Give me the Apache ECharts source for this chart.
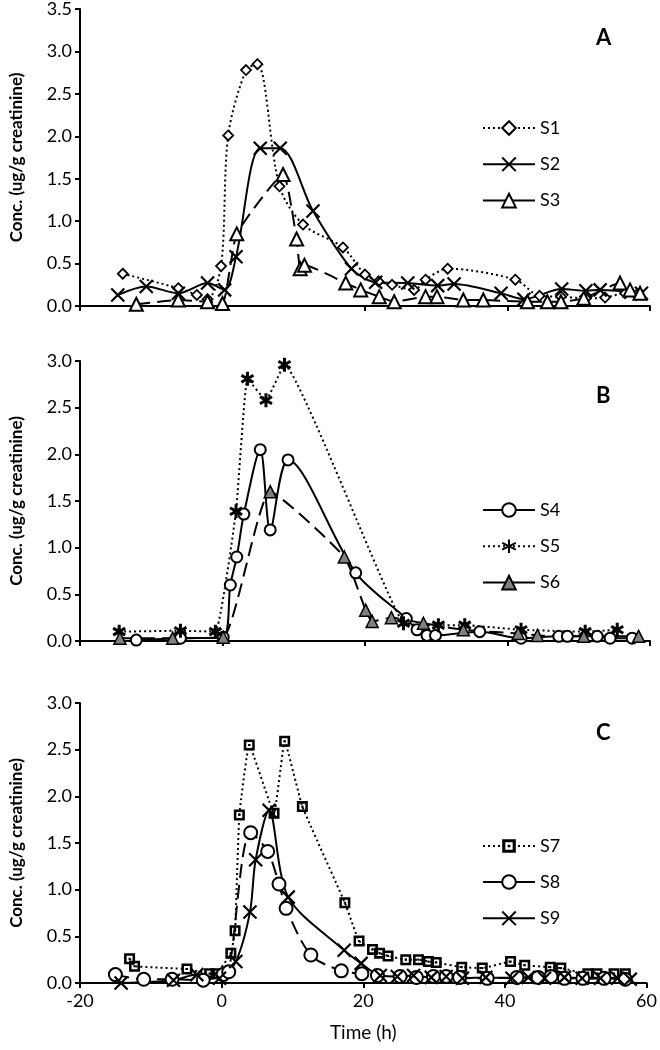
<!DOCTYPE html>
<html>
<head>
<meta charset="utf-8">
<script src="https://cdn.jsdelivr.net/npm/echarts@6/dist/echarts.min.js"></script>
<style>
html,body{margin:0;padding:0;background:#fff;}
#chart{width:660px;height:1050px;}
</style>
</head>
<body>
<div id="chart"></div>
<script>
// ---- Data (Time h, Conc. ug/g creatinine) ----
const s1 = [[-14.0,0.38],[-6.2,0.21],[-3.6,0.13],[-2.1,0.08],[-0.2,0.47],[0.8,2.01],[3.3,2.78],[4.9,2.85],[8.0,1.41],[11.3,0.96],[16.9,0.69],[20.0,0.37],[21.9,0.29],[23.8,0.25],[26.9,0.19],[28.5,0.31],[31.6,0.44],[41.1,0.31],[44.5,0.12],[47.5,0.11],[51.0,0.09],[53.7,0.10],[56.5,0.15],[58.1,0.13]];
const s2 = [[-14.7,0.13],[-10.7,0.23],[-6.2,0.15],[-2.1,0.27],[0.3,0.19],[1.9,0.58],[5.3,1.86],[8.1,1.86],[12.7,1.12],[18.1,0.44],[21.5,0.28],[26.0,0.27],[30.2,0.24],[32.5,0.26],[39.1,0.15],[42.3,0.08],[47.6,0.20],[51.0,0.18],[53.0,0.19],[58.8,0.15]];
const s3 = [[-12.1,0.02],[-6.2,0.07],[-2.1,0.05],[0.0,0.03],[2.0,0.85],[8.5,1.55],[10.4,0.79],[10.9,0.44],[11.5,0.48],[17.3,0.27],[19.4,0.19],[22.0,0.11],[24.1,0.05],[28.5,0.11],[30.1,0.11],[33.8,0.07],[36.6,0.07],[42.8,0.05],[45.6,0.05],[47.5,0.05],[50.7,0.09],[55.8,0.27],[57.2,0.19],[58.6,0.15]];
const s4 = [[-12.1,0.01],[-5.9,0.03],[0.1,0.04],[1.1,0.60],[2.0,0.90],[3.0,1.36],[5.3,2.05],[6.7,1.19],[9.2,1.94],[18.7,0.73],[25.8,0.24],[27.3,0.12],[28.7,0.06],[29.9,0.06],[36.1,0.10],[41.9,0.03],[47.2,0.05],[48.4,0.05],[52.6,0.05],[54.4,0.03],[57.5,0.03]];
const s5 = [[-14.5,0.10],[-5.9,0.11],[-1.0,0.10],[1.9,1.39],[3.5,2.81],[6.1,2.58],[8.7,2.96],[25.4,0.19],[30.3,0.17],[34.0,0.17],[41.9,0.12],[50.9,0.10],[55.4,0.12]];
const s6 = [[-14.4,0.03],[-7.0,0.03],[0.1,0.04],[6.7,1.60],[17.1,0.90],[20.1,0.33],[21.0,0.21],[23.7,0.25],[28.2,0.19],[33.8,0.12],[41.5,0.08],[44.2,0.06],[50.7,0.05],[58.4,0.05]];
const s7 = [[-13.0,0.26],[-12.3,0.18],[-4.9,0.15],[-1.7,0.10],[-0.8,0.10],[1.3,0.32],[1.9,0.56],[2.5,1.80],[3.9,2.55],[7.4,1.82],[8.9,2.59],[11.4,1.89],[17.4,0.86],[19.4,0.45],[21.3,0.36],[22.3,0.32],[23.5,0.29],[26.0,0.25],[27.8,0.25],[29.2,0.23],[30.3,0.22],[33.9,0.17],[36.8,0.16],[40.8,0.23],[42.8,0.19],[46.4,0.17],[47.9,0.16],[51.7,0.10],[53.0,0.10],[55.4,0.10],[57.0,0.10]];
const s8 = [[-15.0,0.09],[-11.0,0.04],[-7.0,0.04],[-2.6,0.03],[0.2,0.09],[1.0,0.12],[4.1,1.61],[6.5,1.41],[8.1,1.06],[9.1,0.80],[12.6,0.30],[16.9,0.13],[19.8,0.10],[22.0,0.08],[25.2,0.07],[27.5,0.06],[29.9,0.07],[31.7,0.07],[33.6,0.06],[37.5,0.05],[41.7,0.06],[44.7,0.06],[46.5,0.07],[48.4,0.05],[51.0,0.05],[54.0,0.05],[57.0,0.04]];
const s9 = [[-14.2,0.00],[-6.8,0.03],[-3.5,0.09],[-0.3,0.05],[2.0,0.23],[4.0,0.76],[4.8,1.32],[6.7,1.85],[9.4,0.92],[17.3,0.35],[19.7,0.21],[22.4,0.08],[24.8,0.07],[27.1,0.08],[29.6,0.06],[31.7,0.07],[34.0,0.05],[37.3,0.06],[41.0,0.05],[43.3,0.06],[45.6,0.05],[48.4,0.06],[50.9,0.05],[53.5,0.05],[55.9,0.05],[57.7,0.04]];
const panelLetters = ['A','B','C'];
const yMaxes = [3.5, 3.0, 3.0];
const yTitle = 'Conc. (ug/g creatinine)';
const xTitle = 'Time (h)';

const FONT = 'Lato';
const X_SYM = 'path://M0,0 L10,10 M10,0 L0,10';
const AST_SYM = 'path://M5,0 L5,10 M0.7,2.5 L9.3,7.5 M0.7,7.5 L9.3,2.5';
const SQ_SYM = 'path://M0,0 L10,0 L10,10 L0,10 Z M2.3,2.3 L2.3,7.7 L7.7,7.7 L7.7,2.3 Z M4,4 L6,4 L6,6 L4,6 Z';

const DOT = [2,3];
const DASH = [14,7];

function mk(name, data, gi, opts) {
  return Object.assign({
    name: name, type: 'line', data: data,
    xAxisIndex: gi, yAxisIndex: gi,
    smooth: 0.3,
    lineStyle: { color: '#000', width: 2, type: 'solid' },
    itemStyle: { color: '#fff', borderColor: '#000', borderWidth: 2 },
    symbolKeepAspect: true,
    animation: false,
    clip: false
  }, opts);
}

const grids = [
  { left: 74, right: 10, top: 7, height: 299 },
  { left: 74, right: 10, top: 361, height: 280 },
  { left: 74, right: 10, top: 703, height: 280 }
];

const xAxes = grids.map((g, i) => ({
  type: 'value', gridIndex: i, min: -20, max: 60, interval: 20,
  axisLine: { show: true, onZero: false, lineStyle: { color: '#000', width: 2 } },
  axisTick: { show: true, inside: false, length: 5, lineStyle: { color: '#000', width: 2 } },
  axisLabel: { show: i === 2, color: '#000', fontSize: 18, fontFamily: FONT, margin: 9 },
  splitLine: { show: false },
  name: i === 2 ? xTitle : '',
  nameLocation: 'middle', nameGap: 40,
  nameTextStyle: { color: '#000', fontSize: 19, fontFamily: FONT }
}));

const yAxes = grids.map((g, i) => ({
  type: 'value', gridIndex: i, min: 0, max: yMaxes[i], interval: 0.5,
  axisLine: { show: true, onZero: false, lineStyle: { color: '#000', width: 2 } },
  axisTick: { show: true, inside: false, length: 5, lineStyle: { color: '#000', width: 2 } },
  axisLabel: { color: '#000', fontSize: 18, fontFamily: FONT, margin: 8,
               formatter: v => v.toFixed(1) },
  splitLine: { show: false },
  name: yTitle, nameLocation: 'middle', nameGap: 55, nameRotate: 90,
  nameTextStyle: { color: '#000', fontSize: 17, fontWeight: 'bold', fontFamily: FONT }
}));

const series = [
  mk('S1', s1, 0, { symbol: 'diamond', symbolSize: 10, lineStyle: { color: '#000', width: 2, type: DOT }, itemStyle: { color: '#fff', borderColor: '#000', borderWidth: 1.8 } }),
  mk('S2', s2, 0, { symbol: X_SYM, symbolSize: 13, itemStyle: { color: 'none', borderColor: '#000', borderWidth: 2.2 } }),
  mk('S3', s3, 0, { symbol: 'triangle', symbolSize: 13, smooth: 0.15, lineStyle: { color: '#000', width: 2, type: DASH }, itemStyle: { color: '#fff', borderColor: '#000', borderWidth: 2 } }),
  mk('S4', s4, 1, { symbol: 'circle', symbolSize: 11, itemStyle: { color: '#fff', borderColor: '#000', borderWidth: 2 } }),
  mk('S5', s5, 1, { symbol: AST_SYM, symbolSize: 14, smooth: 0.1, lineStyle: { color: '#000', width: 2, type: DOT }, itemStyle: { color: 'none', borderColor: '#000', borderWidth: 3 } }),
  mk('S6', s6, 1, { symbol: 'triangle', symbolSize: 12, smooth: 0.15, lineStyle: { color: '#000', width: 2, type: DASH }, itemStyle: { color: '#808080', borderColor: '#000', borderWidth: 1.5 } }),
  mk('S7', s7, 2, { symbol: SQ_SYM, symbolSize: 11, smooth: 0.1, lineStyle: { color: '#000', width: 2, type: DOT }, itemStyle: { color: '#000', borderWidth: 0 } }),
  mk('S8', s8, 2, { symbol: 'circle', symbolSize: 13, smooth: 0.3, lineStyle: { color: '#000', width: 2, type: DASH }, itemStyle: { color: '#fff', borderColor: '#000', borderWidth: 2 } }),
  mk('S9', s9, 2, { symbol: X_SYM, symbolSize: 13, itemStyle: { color: 'none', borderColor: '#000', borderWidth: 2.2 } })
];

function legendFor(names, top, solidOver) {
  return {
    orient: 'vertical', left: 477, top: top,
    itemWidth: 52, itemHeight: 17, itemGap: 18,
    textStyle: { color: '#000', fontSize: 18, fontFamily: FONT },
    data: names.map(n => solidOver.indexOf(n) >= 0 ? { name: n, lineStyle: { type: 'solid' } } : { name: n }),
    selectedMode: false
  };
}

const option = {
  backgroundColor: '#fff',
  animation: false,
  grid: grids,
  xAxis: xAxes,
  yAxis: yAxes,
  title: panelLetters.map((t, i) => ({
    text: t, left: 591, top: [22, 380, 717][i],
    textStyle: { color: '#000', fontSize: 22, fontWeight: 'bold', fontFamily: FONT }
  })),
  legend: [
    legendFor(['S1','S2','S3'], 114, ['S3']),
    legendFor(['S4','S5','S6'], 496, ['S6']),
    legendFor(['S7','S8','S9'], 832, ['S8'])
  ],
  series: series
};

const chart = echarts.init(document.getElementById('chart'), null, { renderer: 'canvas' });
chart.setOption(option);
</script>
</body>
</html>
